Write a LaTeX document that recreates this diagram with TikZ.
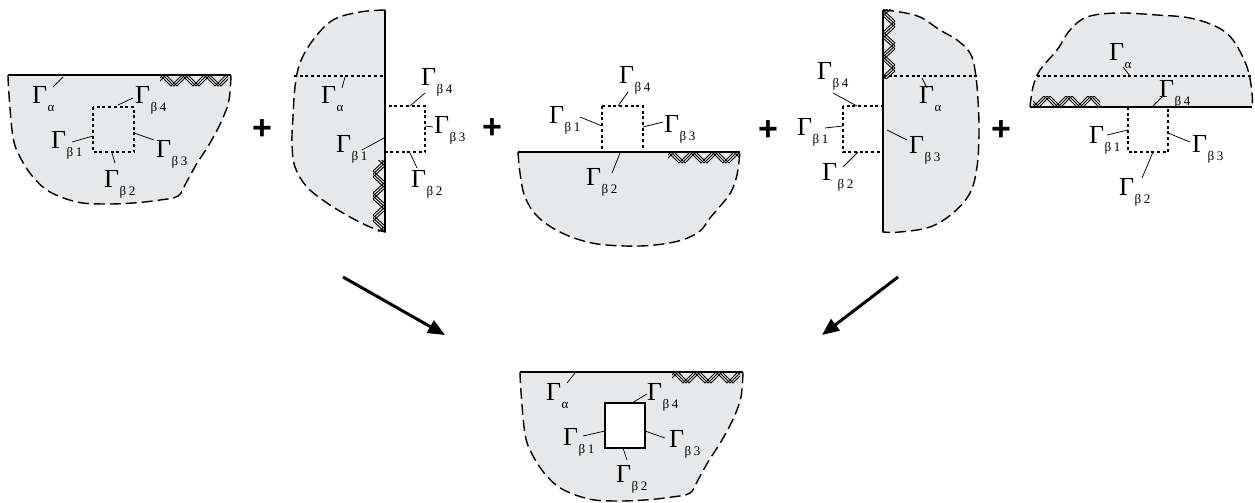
\documentclass[tikz,border=0pt]{standalone}
\usepackage{fontspec}
\setmainfont{Liberation Serif}
\setsansfont{Liberation Sans}
\usetikzlibrary{arrows.meta}
\definecolor{fillg}{RGB}{231,232,233}
\newcommand\Gs[1]{Γ\kern0.5pt\raisebox{-8pt}{\fontsize{13}{13}\selectfont #1}}
\newcommand\bb[1]{β\kern2.5pt#1}
\newcommand\hatchH[4]{%
  \begin{scope}
  \clip (#1,#2) rectangle ++(#3,#4);
  \foreach \k in {0,3,6}{\foreach \i in {0,...,5}{%
    \draw[hatchline] ({#1+\k+22*\i-22},#2) -- ++(11,#4) -- ++(11,-#4);}}
  \end{scope}}
\newcommand\hatchV[4]{%
  \begin{scope}
  \clip (#1,#2) rectangle ++(#4,#3);
  \foreach \k in {0,3,6}{\foreach \i in {0,...,5}{%
    \draw[hatchline] (#1,{#2+\k+22*\i-22}) -- ++(#4,11) -- ++(-#4,11);}}
  \end{scope}}
\begin{document}
\begin{tikzpicture}[x=1pt,y=-1pt,
  region/.style={fill=fillg, draw=black, line width=1.4pt, dash pattern=on 11pt off 5pt},
  edgeline/.style={line width=1.6pt},
  dotl/.style={line width=1.3pt, dash pattern=on 3pt off 2.7pt},
  lead/.style={line width=0.75pt},
  hatchline/.style={line width=0.9pt},
  lbl/.style={anchor=base west, inner sep=0pt, font=\fontsize{26}{26}\selectfont},
  plus/.style={font=\sffamily\bfseries\fontsize{34}{34}\selectfont, inner sep=0pt},
  bigarrow/.style={line width=3pt, -{Triangle[length=17pt,width=14pt]}}]
\useasboundingbox (0,0) rectangle (1255,503);

% ---------------- Panel 1 ----------------
\path[region] plot[smooth, tension=0.6] coordinates {(8,75) (9,95) (13,137) (20,157) (33,177) (50,192) (77,202) (103,204) (133,203) (160,200) (178,196) (186,183) (196,165) (210,143) (222,120) (229,100) (231,75)} -- cycle;
\hatchH{160}{75}{68}{11}
\draw[edgeline] (8,75) -- (231,75);
\draw[dotl] (93,107) rectangle (134,152);
\node[lbl] (p1a) at (32,103) {\Gs{α}};
\node[lbl] (p1b4) at (135,103) {\Gs{\bb4}};
\node[lbl] (p1b1) at (51,148) {\Gs{\bb1}};
\node[lbl] (p1b3) at (156,157) {\Gs{\bb3}};
\node[lbl] (p1b2) at (104,187) {\Gs{\bb2}};
\draw[lead] (53,87) -- (63,77);
\draw[lead] (118,105) -- (133,98);
\draw[lead] (72,142) -- (93,136);
\draw[lead] (134,133) -- (154,140);
\draw[lead] (112,153) -- (115,163);

\node[plus] (plus1) at (262,130) {+};

% ---------------- Panel 2 ----------------
\path[region] plot[smooth, tension=0.6] coordinates {(385,10) (360,12) (333,20) (313,40) (300,63) (295,87) (293,117) (292,143) (295,167) (307,187) (327,203) (350,217) (370,227) (385,232)} -- cycle;
\hatchV{385}{160}{71}{-12}
\draw[dotl] (294,76) -- (385,76);
\draw[dotl] (385,106) rectangle (425,152);
\draw[edgeline] (385,10) -- (385,232);
\node[lbl] (p2a) at (321,103) {\Gs{α}};
\node[lbl] (p2b4) at (421,85) {\Gs{\bb4}};
\node[lbl] (p2b3) at (434,133) {\Gs{\bb3}};
\node[lbl] (p2b1) at (336,152) {\Gs{\bb1}};
\node[lbl] (p2b2) at (411,187) {\Gs{\bb2}};
\draw[lead] (342,88) -- (345,77);
\draw[lead] (410,106) -- (425,93);
\draw[lead] (425,126) -- (433,127);
\draw[lead] (362,150) -- (384,138);
\draw[lead] (410,153) -- (417,168);

\node[plus] (plus2) at (492,129) {+};

% ---------------- Panel 3 ----------------
\path[region] plot[smooth, tension=0.6] coordinates {(518,152) (520,173) (525,197) (538,217) (562,233) (592,243) (625,246) (655,245) (682,240) (700,231) (710,218) (722,204) (731,192) (737,175) (740,152)} -- cycle;
\hatchH{668}{152}{71}{11}
\draw[dotl] (602,106) rectangle (643,152);
\draw[edgeline] (518,152) -- (740,152);
\node[lbl] (p3b4) at (619,83) {\Gs{\bb4}};
\node[lbl] (p3b1) at (549,123) {\Gs{\bb1}};
\node[lbl] (p3b3) at (664,132) {\Gs{\bb3}};
\node[lbl] (p3b2) at (586,185) {\Gs{\bb2}};
\draw[lead] (618,106) -- (628,92);
\draw[lead] (580,117) -- (602,126);
\draw[lead] (643,127) -- (663,122);
\draw[lead] (620,153) -- (612,173);

\node[plus] (plus3) at (768,131) {+};

% ---------------- Panel 4 ----------------
\path[region] plot[smooth, tension=0.6] coordinates {(883,10) (900,12) (920,17) (940,30) (957,40) (970,53) (975,70) (978,100) (979,133) (977,167) (970,193) (953,213) (930,227) (900,232) (883,232)} -- cycle;
\hatchV{883}{10}{68}{12}
\draw[dotl] (883,76) -- (977,76);
\draw[dotl] (843,106) rectangle (883,152);
\draw[edgeline] (883,10) -- (883,232);
\node[lbl] (p4a) at (919,103) {\Gs{α}};
\node[lbl] (p4b4) at (817,80) {\Gs{\bb4}};
\node[lbl] (p4b1) at (797,135) {\Gs{\bb1}};
\node[lbl] (p4b3) at (909,153) {\Gs{\bb3}};
\node[lbl] (p4b2) at (822,180) {\Gs{\bb2}};
\draw[lead] (922,78) -- (927,88);
\draw[lead] (833,93) -- (857,106);
\draw[lead] (825,128) -- (843,126);
\draw[lead] (887,130) -- (907,140);
\draw[lead] (843,167) -- (858,152);

\node[plus] (plus4) at (1001,131) {+};

% ---------------- Panel 5 ----------------
\path[region] plot[smooth, tension=0.6] coordinates {(1030,107) (1033,87) (1040,70) (1057,50) (1070,30) (1087,17) (1117,13) (1157,15) (1190,18) (1217,27) (1233,40) (1247,67) (1252,93) (1252,107)} -- cycle;
\hatchH{1033}{107}{67}{-11}
\draw[dotl] (1037,76) -- (1251,76);
\draw[dotl] (1128,107) rectangle (1168,152);
\draw[edgeline] (1030,107) -- (1252,107);
\node[lbl] (p5a) at (1109,60) {\Gs{α}};
\node[lbl] (p5b4) at (1159,97) {\Gs{\bb4}};
\node[lbl] (p5b1) at (1089,143) {\Gs{\bb1}};
\node[lbl] (p5b3) at (1192,152) {\Gs{\bb3}};
\node[lbl] (p5b2) at (1119,195) {\Gs{\bb2}};
\draw[lead] (1123,67) -- (1130,76);
\draw[lead] (1153,106) -- (1162,97);
\draw[lead] (1107,135) -- (1128,130);
\draw[lead] (1168,133) -- (1190,142);
\draw[lead] (1153,152) -- (1142,178);

% ---------------- Arrows ----------------
\coordinate (a1s) at (343,277);
\coordinate (a1e) at (445,335);
\coordinate (a2s) at (898,277);
\coordinate (a2e) at (822,335);
\draw[bigarrow] (a1s) -- (a1e);
\draw[bigarrow] (a2s) -- (a2e);

% ---------------- Panel 6 (result) ----------------
\begin{scope}[shift={(512,297)}]
\path[region] plot[smooth, tension=0.6] coordinates {(8,75) (9,95) (13,137) (20,157) (33,177) (50,192) (77,202) (103,204) (133,203) (160,200) (178,196) (186,183) (196,165) (210,143) (222,120) (229,100) (231,75)} -- cycle;
\hatchH{160}{75}{68}{11}
\draw[edgeline] (8,75) -- (231,75);
\draw[edgeline, fill=white] (93,106) rectangle (133,151);
\node[lbl] (p6a) at (34,103) {\Gs{α}};
\node[lbl] (p6b4) at (135,103) {\Gs{\bb4}};
\node[lbl] (p6b1) at (51,148) {\Gs{\bb1}};
\node[lbl] (p6b3) at (157,150) {\Gs{\bb3}};
\node[lbl] (p6b2) at (104,185) {\Gs{\bb2}};
\draw[lead] (55,86) -- (63,76);
\draw[lead] (120,106) -- (135,97);
\draw[lead] (71,139) -- (93,134);
\draw[lead] (133,134) -- (153,141);
\draw[lead] (111,151) -- (115,163);
\end{scope}
\end{tikzpicture}
\end{document}
